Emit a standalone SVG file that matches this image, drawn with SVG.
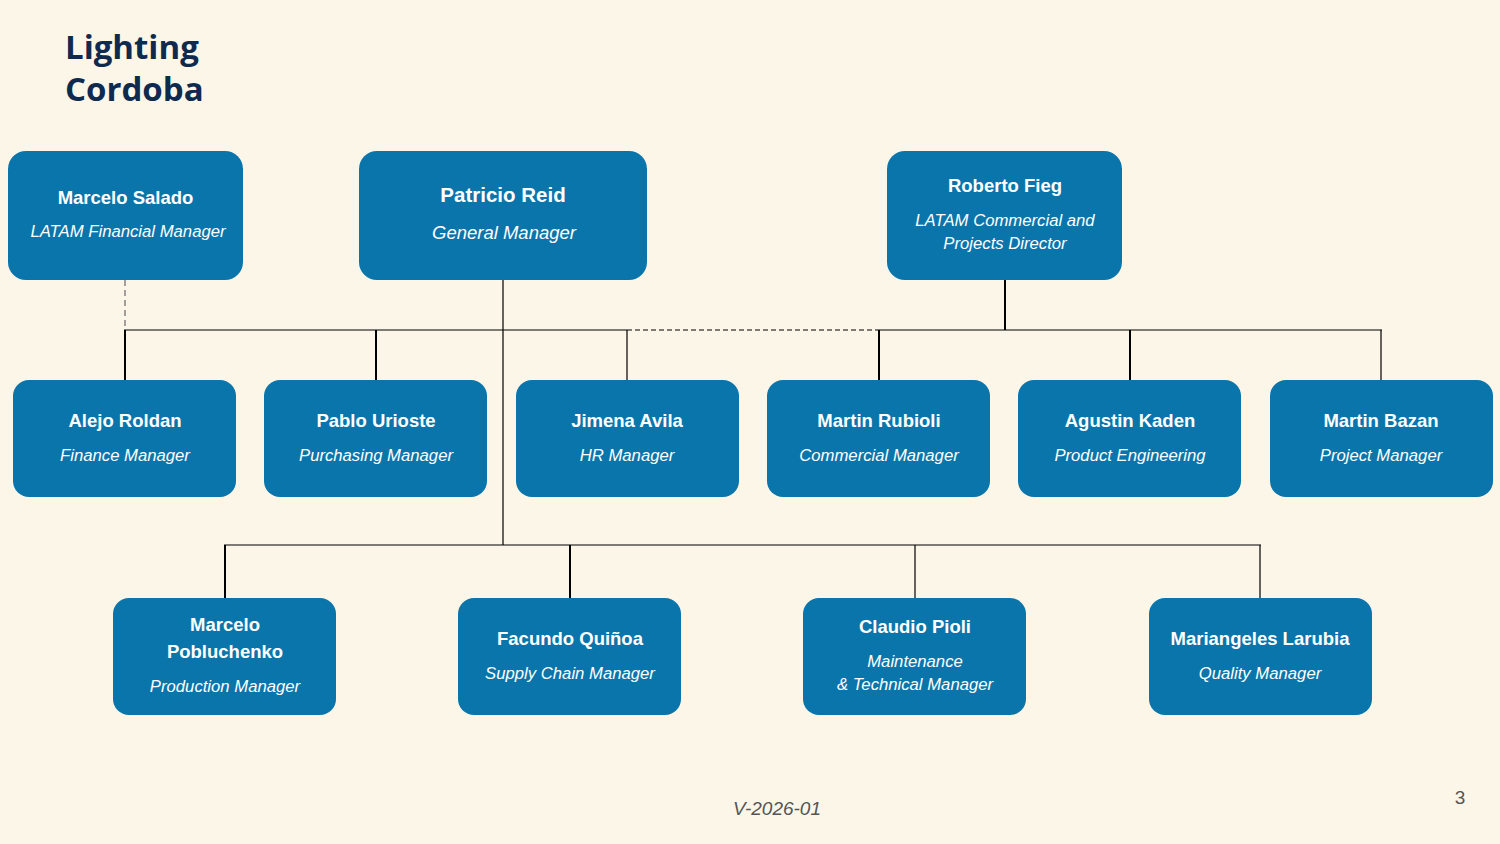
<svg xmlns="http://www.w3.org/2000/svg" width="1500" height="844" viewBox="0 0 1500 844">
<style>
.bg{fill:#FCF6E9}
.box{fill:#0A75AB}
.nm{font-family:"Liberation Sans",Arial,sans-serif;font-weight:bold;font-size:18.5px;fill:#FFFFFF;text-anchor:middle}
.rl{font-family:"Liberation Sans",Arial,sans-serif;font-style:italic;font-size:16.7px;fill:#FFFFFF;text-anchor:middle}
.ttl{font-family:"Open Sans","DejaVu Sans",sans-serif;font-weight:bold;font-size:33px;fill:#0F2A4F}
.s{stroke:#000;fill:none;stroke-width:1.2}
.t{stroke:#000;fill:none;stroke-width:2}
.d{stroke:#000;fill:none;stroke-width:1.2;stroke-dasharray:5 3}
.dg{stroke:#666;fill:none;stroke-width:1.2;stroke-dasharray:6 4}
.ft{font-family:"Liberation Sans",Arial,sans-serif;fill:#555555}
</style>
<rect class="bg" x="0" y="0" width="1500" height="844"/>
<g id="title">
<text class="ttl" x="65" y="59">Lighting</text>
<text class="ttl" x="65" y="101">Cordoba</text>
</g>
<g id="connectors">
<line class="s" x1="503" y1="280" x2="503" y2="545"/>
<line class="t" x1="1005" y1="280" x2="1005" y2="330"/>
<line class="s" x1="124" y1="330" x2="627" y2="330"/>
<line class="d" x1="627" y1="330" x2="879" y2="330"/>
<line class="s" x1="879" y1="330" x2="1382" y2="330"/>
<line class="dg" x1="125" y1="280" x2="125" y2="330"/>
<line class="t" x1="125" y1="330" x2="125" y2="380"/>
<line class="t" x1="376" y1="330" x2="376" y2="380"/>
<line class="s" x1="627" y1="330" x2="627" y2="380"/>
<line class="t" x1="879" y1="330" x2="879" y2="380"/>
<line class="t" x1="1130" y1="330" x2="1130" y2="380"/>
<line class="s" x1="1381" y1="330" x2="1381" y2="380"/>
<line class="s" x1="224" y1="545" x2="1261" y2="545"/>
<line class="t" x1="225" y1="545" x2="225" y2="598"/>
<line class="t" x1="570" y1="545" x2="570" y2="598"/>
<line class="s" x1="915" y1="545" x2="915" y2="598"/>
<line class="s" x1="1260" y1="545" x2="1260" y2="598"/>
</g>
<g id="n-salado">
<rect class="box" x="8" y="151" width="235" height="129" rx="18"/>
<text class="nm" x="125.5" y="204">Marcelo Salado</text>
<text class="rl" x="128" y="237">LATAM Financial Manager</text>
</g>
<g id="n-reid">
<rect class="box" x="359" y="151" width="288" height="129" rx="18"/>
<text class="nm" x="503" y="202" style="font-size:20.5px">Patricio Reid</text>
<text class="rl" x="504" y="239" style="font-size:18.5px">General Manager</text>
</g>
<g id="n-fieg">
<rect class="box" x="887" y="151" width="235" height="129" rx="18"/>
<text class="nm" x="1005" y="192">Roberto Fieg</text>
<text class="rl" x="1005" y="226">LATAM Commercial and</text>
<text class="rl" x="1005" y="249">Projects Director</text>
</g>
<g id="n-roldan">
<rect class="box" x="13" y="380" width="223" height="117" rx="16"/>
<text class="nm" x="125" y="427">Alejo Roldan</text>
<text class="rl" x="125" y="461">Finance Manager</text>
</g>
<g id="n-urioste">
<rect class="box" x="264" y="380" width="223" height="117" rx="16"/>
<text class="nm" x="376" y="427">Pablo Urioste</text>
<text class="rl" x="376" y="461">Purchasing Manager</text>
</g>
<g id="n-avila">
<rect class="box" x="516" y="380" width="223" height="117" rx="16"/>
<text class="nm" x="627" y="427">Jimena Avila</text>
<text class="rl" x="627" y="461">HR Manager</text>
</g>
<g id="n-rubioli">
<rect class="box" x="767" y="380" width="223" height="117" rx="16"/>
<text class="nm" x="879" y="427">Martin Rubioli</text>
<text class="rl" x="879" y="461">Commercial Manager</text>
</g>
<g id="n-kaden">
<rect class="box" x="1018" y="380" width="223" height="117" rx="16"/>
<text class="nm" x="1130" y="427">Agustin Kaden</text>
<text class="rl" x="1130" y="461">Product Engineering</text>
</g>
<g id="n-bazan">
<rect class="box" x="1270" y="380" width="223" height="117" rx="16"/>
<text class="nm" x="1381" y="427">Martin Bazan</text>
<text class="rl" x="1381" y="461">Project Manager</text>
</g>
<g id="n-pobluchenko">
<rect class="box" x="113" y="598" width="223" height="117" rx="16"/>
<text class="nm" x="225" y="631">Marcelo</text>
<text class="nm" x="225" y="658">Pobluchenko</text>
<text class="rl" x="225" y="692">Production Manager</text>
</g>
<g id="n-quinoa">
<rect class="box" x="458" y="598" width="223" height="117" rx="16"/>
<text class="nm" x="570" y="645">Facundo Quiñoa</text>
<text class="rl" x="570" y="679">Supply Chain Manager</text>
</g>
<g id="n-pioli">
<rect class="box" x="803" y="598" width="223" height="117" rx="16"/>
<text class="nm" x="915" y="633">Claudio Pioli</text>
<text class="rl" x="915" y="667">Maintenance</text>
<text class="rl" x="915" y="690">&amp; Technical Manager</text>
</g>
<g id="n-larubia">
<rect class="box" x="1149" y="598" width="223" height="117" rx="16"/>
<text class="nm" x="1260" y="645">Mariangeles Larubia</text>
<text class="rl" x="1260" y="679">Quality Manager</text>
</g>
<g id="footer">
<text class="ft" x="777" y="815" text-anchor="middle" font-style="italic" font-size="19">V-2026-01</text>
<text class="ft" x="1460" y="804" text-anchor="middle" font-size="19">3</text>
</g>
</svg>
